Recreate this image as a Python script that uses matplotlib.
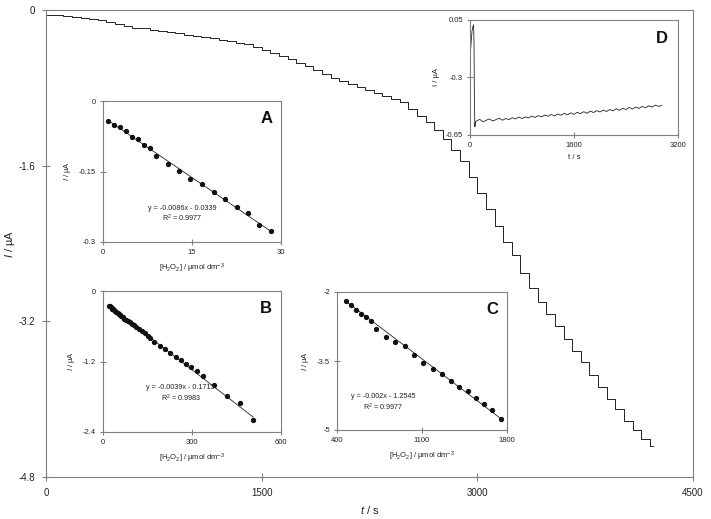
import numpy as np
import matplotlib.pyplot as plt

plt.rcParams['font.family'] = ['Liberation Sans', 'DejaVu Sans']
plt.rcParams['mathtext.fontset'] = 'custom'
plt.rcParams['mathtext.rm'] = 'Liberation Sans'
plt.rcParams['mathtext.it'] = 'Liberation Sans:italic'

# main chronoamperogram: step times (s) and current levels (uA)
t_main = [0, 60, 120, 180, 240, 300, 360, 420, 480, 540, 600, 660, 720, 780, 840,
          900, 960, 1020, 1080, 1140, 1200, 1260, 1320, 1380, 1440, 1500, 1560,
          1620, 1680, 1740, 1800, 1860, 1920, 1980, 2040, 2100, 2160, 2220, 2280,
          2340, 2400, 2460, 2520, 2580, 2640, 2700, 2760, 2820, 2880, 2940, 3000,
          3060, 3120, 3180, 3240, 3300, 3360, 3420, 3480, 3540, 3600, 3660, 3720,
          3780, 3840, 3900, 3960, 4020, 4080, 4140, 4200, 4225]
i_main = [-0.05, -0.055, -0.06, -0.07, -0.08, -0.09, -0.105, -0.12, -0.14, -0.16,
          -0.18, -0.19, -0.205, -0.215, -0.23, -0.24, -0.255, -0.265, -0.28, -0.29,
          -0.305, -0.32, -0.335, -0.35, -0.38, -0.41, -0.44, -0.47, -0.50, -0.54,
          -0.58, -0.62, -0.66, -0.70, -0.73, -0.76, -0.79, -0.82, -0.85, -0.88,
          -0.91, -0.95, -1.02, -1.09, -1.15, -1.23, -1.33, -1.44, -1.55, -1.72,
          -1.88, -2.05, -2.22, -2.38, -2.52, -2.70, -2.86, -3.00, -3.12, -3.25,
          -3.38, -3.50, -3.62, -3.75, -3.88, -4.00, -4.10, -4.22, -4.32, -4.41,
          -4.48, -4.48]

# inset A
conc_a = [0.9, 1.9, 2.9, 3.9, 4.9, 5.9, 6.9, 7.9, 8.9, 10.9, 12.8, 14.7, 16.7,
          18.7, 20.6, 22.5, 24.4, 26.3, 28.3]
cur_a = [-0.043, -0.050, -0.056, -0.064, -0.077, -0.081, -0.094, -0.101, -0.117,
         -0.133, -0.148, -0.165, -0.177, -0.193, -0.209, -0.225, -0.239, -0.263,
         -0.276]
fit_a = (-0.0086, -0.0339, '0.9977')

# inset B
conc_b = [20, 23, 26, 29, 32, 35, 38, 41, 45, 49, 53, 57, 62, 67, 72, 78, 84, 90,
          97, 104, 112, 120, 130, 140, 150, 160, 173, 193, 209, 226, 246, 263, 280,
          297, 316, 336, 375, 418, 461, 506]
cur_b = [-0.25, -0.26, -0.275, -0.29, -0.30, -0.31, -0.325, -0.335, -0.355, -0.37,
         -0.385, -0.40, -0.425, -0.445, -0.47, -0.49, -0.51, -0.535, -0.56, -0.585,
         -0.615, -0.645, -0.685, -0.72, -0.76, -0.80, -0.865, -0.93, -0.99, -1.05,
         -1.12, -1.17, -1.24, -1.30, -1.37, -1.45, -1.60, -1.79, -1.91, -2.20]
fit_b = (-0.0039, -0.1713, '0.9983')

# inset C
conc_c = [474, 515, 554, 595, 636, 678, 721, 804, 880, 960, 1037, 1111, 1188, 1262,
          1337, 1407, 1477, 1545, 1613, 1677, 1748]
cur_c = [-2.19, -2.28, -2.39, -2.48, -2.54, -2.62, -2.80, -2.97, -3.08, -3.17,
         -3.37, -3.55, -3.67, -3.78, -3.93, -4.06, -4.15, -4.31, -4.44, -4.57, -4.75]
fit_c = (-0.002, -1.2545, '0.9977')

# inset D
t_d = [0, 15, 30, 45, 55, 62, 68, 75, 85, 100, 150, 200, 250, 300, 350, 400, 450,
       500, 550, 600, 650, 700, 750, 800, 850, 900, 950, 1000, 1050, 1100, 1150,
       1200, 1250, 1300, 1350, 1400, 1450, 1500, 1550, 1600, 1650, 1700, 1750,
       1800, 1850, 1900, 1950, 2000, 2050, 2100, 2150, 2200, 2250, 2300, 2350,
       2400, 2450, 2500, 2550, 2600, 2650, 2700, 2750, 2800, 2850, 2900, 2950]
i_d = [-0.18, -0.10, -0.02, 0.01, 0.02, -0.10, -0.45, -0.60, -0.57, -0.565,
       -0.555, -0.570, -0.560, -0.552, -0.565, -0.556, -0.548, -0.560, -0.550,
       -0.556, -0.545, -0.552, -0.541, -0.550, -0.540, -0.546, -0.535, -0.543,
       -0.532, -0.540, -0.528, -0.536, -0.525, -0.534, -0.522, -0.530, -0.518,
       -0.527, -0.515, -0.524, -0.512, -0.520, -0.508, -0.518, -0.505, -0.513,
       -0.502, -0.510, -0.498, -0.507, -0.495, -0.503, -0.490, -0.500, -0.487,
       -0.495, -0.482, -0.492, -0.480, -0.488, -0.476, -0.485, -0.472, -0.480,
       -0.468, -0.476, -0.470]

W, H = 711, 519
spine_col = '#808080'
txt_col = '#222222'
conc_label = r'[H$_2$O$_2$] / µmol dm$^{-3}$'


def box(left, top, right, bottom):
    return [left / W, 1 - bottom / H, (right - left) / W, (bottom - top) / H]


def style(ax, size, ticklen, pad=3):
    for s in ax.spines.values():
        s.set_color(spine_col)
        s.set_linewidth(0.8)
    ax.tick_params(direction='inout', length=ticklen, width=0.8, color=spine_col,
                   labelsize=size, labelcolor=txt_col, pad=pad)


fig = plt.figure(figsize=(W / 100, H / 100), dpi=100)

ax = fig.add_axes(box(46, 10, 693, 477))
ax.plot(t_main, i_main, drawstyle='steps-post', color='#222222', lw=0.7)
ax.set_xlim(0, 4500)
ax.set_ylim(-4.8, 0)
ax.set_xticks([0, 1500, 3000, 4500])
ax.set_yticks([0, -1.6, -3.2, -4.8])
ax.set_yticklabels(['0', '-1.6', '-3.2', '-4.8'])
style(ax, 7, 6, pad=5)
ax.set_xlabel('$t$ / s', fontsize=8, color=txt_col, labelpad=4)
ax.set_ylabel('$I$ / µA', fontsize=8, color=txt_col, labelpad=1)


def inset(rect, x, y, fit, xlim, ylim, xt, yt, letter, xlab, eqpos):
    a = fig.add_axes(box(*rect))
    a.plot(x, y, 'o', color='#111111', ms=2.8, zorder=3)
    xs = np.array([x[0], x[-1]])
    a.plot(xs, fit[0] * xs + fit[1], color='#222222', lw=0.6)
    a.set_xlim(*xlim)
    a.set_ylim(*ylim)
    a.set_xticks(xt)
    a.set_yticks(yt)
    a.set_yticklabels([str(v) for v in yt])
    style(a, 5.5, 4)
    a.set_xlabel(xlab, fontsize=5.5, color=txt_col, labelpad=4)
    a.set_ylabel('$I$ / µA', fontsize=5.5, color=txt_col, labelpad=4)
    a.text(0.95, 0.93, letter, transform=a.transAxes, ha='right', va='top',
           fontsize=12, fontweight='bold', color='#111111')
    sign = '-' if fit[1] < 0 else '+'
    eq = 'y = %gx %s %g' % (fit[0], sign, abs(fit[1]))
    a.text(eqpos[0], eqpos[1], eq, ha='center', va='center', fontsize=5.2,
           color=txt_col)
    a.text(eqpos[0], eqpos[1] - eqpos[2], 'R$^2$ = ' + fit[2], ha='center',
           va='center', fontsize=5.2, color=txt_col)
    return a


inset((103, 101, 281, 242), conc_a, cur_a, fit_a, (0, 30), (-0.3, 0),
      [0, 15, 30], [0, -0.15, -0.3], 'A', conc_label, (13.3, -0.228, 0.021))
inset((103, 291, 281, 432), conc_b, cur_b, fit_b, (0, 600), (-2.4, 0),
      [0, 300, 600], [0, -1.2, -2.4], 'B', conc_label, (262, -1.65, 0.17))
inset((337, 292, 507, 430), conc_c, cur_c, fit_c, (400, 1800), (-5, -2),
      [400, 1100, 1800], [-2, -3.5, -5], 'C', conc_label, (779, -4.28, 0.22))

ad = fig.add_axes(box(470, 20, 678, 135))
ad.plot(t_d, i_d, color='#222222', lw=0.6)
ad.set_xlim(0, 3200)
ad.set_ylim(-0.65, 0.05)
ad.set_xticks([0, 1600, 3200])
ad.set_yticks([0.05, -0.3, -0.65])
ad.set_yticklabels(['0.05', '-0.3', '-0.65'])
style(ad, 5.5, 4)
ad.set_xlabel('t / s', fontsize=5.5, color=txt_col, labelpad=4)
ad.set_ylabel('I / µA', fontsize=5.5, color=txt_col, labelpad=4)
ad.text(0.95, 0.9, 'D', transform=ad.transAxes, ha='right', va='top',
        fontsize=12, fontweight='bold', color='#111111')

fig.savefig('out.png', dpi=100)
